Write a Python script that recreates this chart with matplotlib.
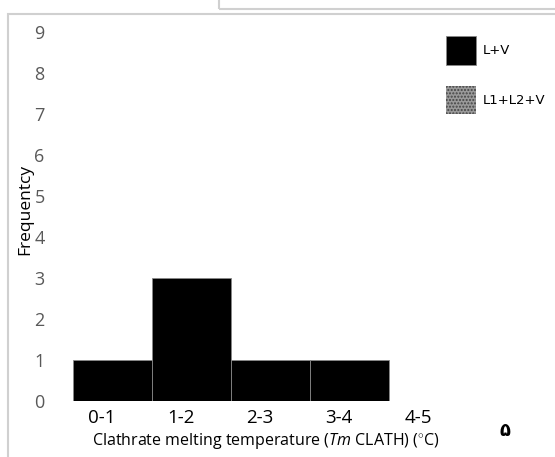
import numpy as np
import matplotlib.pyplot as plt
from matplotlib.patches import Rectangle

plt.rcParams['font.family'] = ['Open Sans', 'DejaVu Sans']
plt.rcParams['mathtext.fontset'] = 'custom'
plt.rcParams['mathtext.it'] = 'Open Sans:italic'
plt.rcParams['mathtext.rm'] = 'Open Sans'

# data
categories = ['0-1', '1-2', '2-3', '3-4', '4-5']
lv_counts = [1, 3, 1, 1, 0]
l1l2v_counts = [0, 0, 0, 0, 0]
yticks = list(range(0, 10))

W, H = 555, 457
fig = plt.figure(figsize=(W / 100, H / 100), dpi=100)

# outer chart frame + clipped box above
fig.patches.append(Rectangle((8 / W, -0.01), 1.0, 1 - 14 / H + 0.01, transform=fig.transFigure,
                             fill=False, edgecolor='#d0d0d0', linewidth=1.5))
fig.patches.append(Rectangle((219 / W, 1 - 9 / H), 1.0, 0.05, transform=fig.transFigure,
                             fill=False, edgecolor='#d0d0d0', linewidth=1.5))

# axes: x=0 at 73px, 79px per unit; y=0 at 401px, 41px per unit
left_px, right_px = 60, 500
ax = fig.add_axes([left_px / W, 1 - 401 / H, (right_px - left_px) / W, 369 / H])
ax.set_xlim(-(73 - left_px) / 79, (right_px - 73) / 79)
ax.set_ylim(0, 9)

x = np.arange(len(categories))
ax.bar(x, lv_counts, width=1.0, align='edge', color='black', edgecolor='#888888',
       linewidth=0.6, label='L+V')
ax.bar(x, l1l2v_counts, width=1.0, align='edge', color='#9a9a9a', hatch='.....',
       edgecolor='#444444', linewidth=0, label='L1+L2+V')

for s in ax.spines.values():
    s.set_visible(False)
ax.tick_params(length=0)
ax.set_yticks(yticks)
ax.set_yticklabels([str(v) for v in yticks], fontsize=13, color='#595959')
ax.tick_params(axis='y', pad=11)
ax.set_xticks(x + 0.37)
ax.set_xticklabels(categories, fontsize=13.5, color='black')
ax.tick_params(axis='x', pad=6)

ax.set_ylabel('Frequentcy', fontsize=12.5)
ax.yaxis.set_label_coords(-0.06, 0.52)
ax.set_xlabel(r'Clathrate melting temperature ($Tm$ CLATH) ($^{\circ}$C)', fontsize=11.5, labelpad=2)
ax.xaxis.set_label_coords(0.468, -0.08)

leg = ax.legend(loc='upper right', bbox_to_anchor=(1.13, 1.02), frameon=False,
                fontsize=9.5, handlelength=2.3, handleheight=2.9, labelspacing=1.6,
                handletextpad=0.5)
for t in leg.get_texts():
    t.set_fontfamily(['Liberation Sans Narrow', 'DejaVu Sans Condensed', 'DejaVu Sans'])

fig.text(505 / W, 1 - 431 / H, '۵', fontsize=13, family=['DejaVu Sans'],
         fontweight='bold', ha='center', va='center')

fig.savefig('out.png', dpi=100)
